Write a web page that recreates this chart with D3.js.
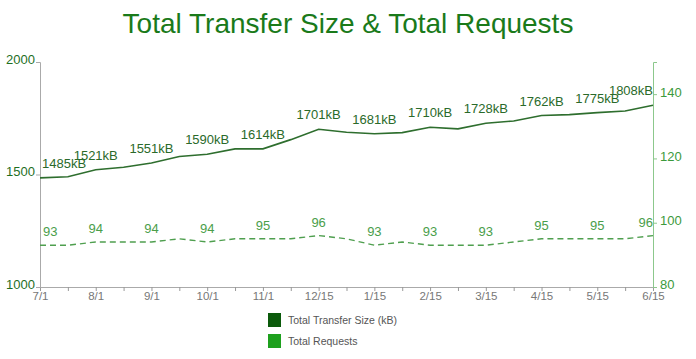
<!DOCTYPE html>
<html>
<head>
	<meta charset="UTF-8">
	<title>Total Transfer Size &amp; Total Requests</title>
	<style>
html, body {margin:0;padding:0;background:#fff;}
text {font-family: "Liberation Sans", Arial, sans-serif;}
	</style>
	<script src="https://cdnjs.cloudflare.com/ajax/libs/d3/7.8.5/d3.min.js"></script>
</head>
<body>
<svg id="chart" width="696" height="359"></svg>
<script>
// one point every half month, labels on every other point
const dates = ['7/1','7/15','8/1','8/15','9/1','9/15','10/1','10/15','11/1','11/15','12/15','1/1',
	'1/15','2/1','2/15','3/1','3/15','4/1','4/15','5/1','5/15','6/1','6/15'];
const tickLabels = ['7/1','8/1','9/1','10/1','11/1','12/15','1/15','2/15','3/15','4/15','5/15','6/15'];
const bytes = [1485,1490,1521,1532,1551,1580,1590,1614,1614,1655,1701,1688,
	1681,1686,1710,1703,1728,1738,1762,1766,1775,1782,1808];
const reqs = [93,93,94,94,94,95,94,95,95,95,96,95,
	93,94,93,93,93,94,95,95,95,95,96];

const svg = d3.select('#chart');
const m = {l: 40, r: 43, t: 62, b: 72};
const W = 696, H = 359;

const x = d3.scalePoint().domain(dates).range([m.l, W - m.r]);
const yL = d3.scaleLinear().domain([1000, 2000]).range([H - m.b, m.t]);
const yR = d3.scaleLinear().domain([80, 150]).range([H - m.b, m.t]);

svg.append('text')
	.attr('x', 348).attr('y', 33)
	.attr('text-anchor', 'middle')
	.attr('font-size', 28)
	.attr('fill', '#1a7a1a')
	.text('Total Transfer Size & Total Requests');

// axes
const gx = svg.append('g').attr('transform', `translate(0,${H - m.b})`)
	.call(d3.axisBottom(x).tickSize(4).tickFormat(d => tickLabels.includes(d) ? d : ''));
gx.select('.domain').attr('stroke', '#aaa');
gx.selectAll('.tick line').attr('stroke', '#999');
gx.selectAll('.tick text').attr('fill', '#777').attr('font-size', 11.5).attr('dy', '0.55em');

const gl = svg.append('g').attr('transform', `translate(${m.l},0)`)
	.call(d3.axisLeft(yL).tickValues([1000, 1500, 2000]).tickFormat(d3.format('d')).tickSize(4).tickPadding(1));
gl.select('.domain').attr('stroke', '#aaa');
gl.selectAll('.tick line').attr('stroke', '#aaa');
gl.selectAll('.tick text').attr('fill', '#1f6f1f').attr('font-size', 13).attr('dy', '0.1em');

const gr = svg.append('g').attr('transform', `translate(${W - m.r},0)`)
	.call(d3.axisRight(yR).tickValues([80, 100, 120, 140]).tickSize(4));
gr.select('.domain').attr('stroke', '#8cc88c');
gr.selectAll('.tick line').attr('stroke', '#8cc88c');
gr.selectAll('.tick text').attr('fill', '#3c9a3c').attr('font-size', 13).attr('dy', '0.15em');

// lines
const lineB = d3.line().x((d, i) => x(dates[i])).y(d => yL(d));
const lineR = d3.line().x((d, i) => x(dates[i])).y(d => yR(d));

svg.append('path').datum(bytes)
	.attr('d', lineB).attr('fill', 'none')
	.attr('stroke', '#2e6e2e').attr('stroke-width', 1.6);

svg.append('path').datum(reqs)
	.attr('d', lineR).attr('fill', 'none')
	.attr('stroke', '#4f9f4f').attr('stroke-width', 1.4)
	.attr('stroke-dasharray', '6,4');

// value labels on the labelled points
const labIdx = dates.map((d, i) => i).filter(i => tickLabels.includes(dates[i]));

svg.append('g').selectAll('text').data(labIdx).enter().append('text')
	.attr('x', i => x(dates[i]) + (i === 0 ? 2 : 0))
	.attr('y', i => yL(bytes[i]) - 10)
	.attr('text-anchor', i => i === 0 ? 'start' : (i === dates.length - 1 ? 'end' : 'middle'))
	.attr('font-size', 13)
	.attr('fill', '#2a6a2a')
	.text(i => bytes[i] + 'kB');

svg.append('g').selectAll('text').data(labIdx).enter().append('text')
	.attr('x', i => x(dates[i]) + (i === 0 ? 3 : 0))
	.attr('y', i => yR(reqs[i]) - 9)
	.attr('text-anchor', i => i === 0 ? 'start' : (i === dates.length - 1 ? 'end' : 'middle'))
	.attr('font-size', 13)
	.attr('fill', '#4a9e4a')
	.text(i => reqs[i]);

// legend
const legend = [
	{name: 'Total Transfer Size (kB)', color: '#0b5a0b'},
	{name: 'Total Requests', color: '#1ea01e'}
];
const lg = svg.append('g').attr('transform', 'translate(268,313)');
legend.forEach((d, i) => {
	lg.append('rect').attr('x', 0).attr('y', i * 21).attr('width', 13).attr('height', 14).attr('fill', d.color);
	lg.append('text').attr('x', 20).attr('y', i * 21 + 11)
		.attr('font-size', 10.5).attr('fill', '#555').text(d.name);
});
</script>
</body>
</html>
